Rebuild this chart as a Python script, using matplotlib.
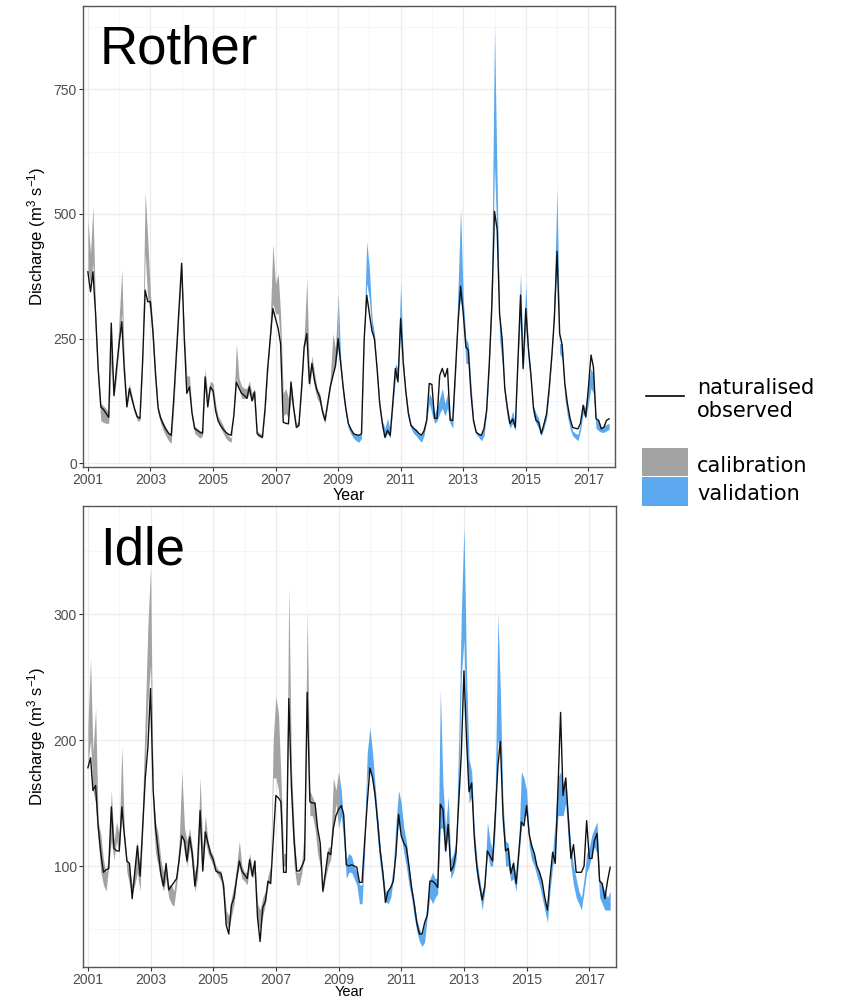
import numpy as np
import pandas as pd
import matplotlib
matplotlib.use("Agg")
import matplotlib.pyplot as plt
import matplotlib.dates as mdates
from matplotlib.lines import Line2D
from matplotlib.patches import Rectangle
from matplotlib.ticker import FixedLocator
from datetime import datetime

plt.rcParams['font.family'] = ['Liberation Sans', 'DejaVu Sans']
plt.rcParams['mathtext.fontset'] = 'custom'
plt.rcParams['mathtext.rm'] = 'Liberation Sans'
plt.rcParams['mathtext.it'] = 'Liberation Sans'

# ---------------- data (monthly, Jan 2001 - Sep 2017) ----------------
start_month = "2001-01-01"
n_months = 201
validation_start = "2009-01-01"
major_years = [2001, 2003, 2005, 2007, 2009, 2011, 2013, 2015, 2017]
minor_years = [2002, 2004, 2006, 2008, 2010, 2012, 2014, 2016]

rother_obs = [
    384, 344, 384, 300, 190, 113, 108, 100, 92, 281, 136, 190,
    240, 284, 190, 113, 150, 128, 108, 93, 90, 200, 347, 324,
    324, 260, 180, 110, 90, 78, 68, 60, 56, 130, 220, 310,
    401, 250, 140, 153, 100, 69, 66, 62, 60, 173, 113, 153,
    145, 105, 85, 75, 68, 62, 58, 56, 95, 163, 150, 140,
    136, 130, 153, 125, 143, 59, 55, 52, 110, 190, 250, 310,
    290, 270, 240, 82, 80, 79, 163, 110, 72, 76, 150, 233,
    260, 160, 200, 165, 145, 133, 105, 86, 120, 153, 175, 195,
    250, 200, 153, 110, 79, 68, 59, 57, 56, 59, 247, 337,
    300, 265, 250, 190, 120, 80, 52, 66, 56, 120, 190, 163,
    290, 200, 146, 100, 76, 70, 66, 60, 56, 65, 86, 160,
    158, 90, 90, 176, 190, 173, 190, 86, 86, 180, 280, 355,
    300, 233, 227, 140, 85, 62, 58, 56, 70, 106, 200, 314,
    505, 469, 300, 247, 150, 110, 79, 89, 72, 200, 337, 190,
    310, 230, 180, 110, 86, 82, 59, 78, 99, 150, 215, 290,
    425, 260, 237, 160, 120, 90, 72, 70, 69, 80, 116, 93,
    150, 217, 193, 89, 86, 69, 72, 86, 89,
]
rother_lo = [
    390, 360, 400, 250, 160, 85, 82, 80, 80, 200, 130, 170,
    240, 300, 180, 110, 140, 120, 100, 85, 85, 190, 420, 330,
    300, 230, 160, 100, 80, 65, 55, 45, 40, 110, 210, 300,
    380, 230, 150, 150, 90, 60, 55, 50, 55, 160, 120, 150,
    140, 105, 85, 70, 60, 50, 45, 42, 100, 170, 150, 130,
    130, 130, 140, 125, 130, 55, 52, 50, 100, 180, 250, 320,
    300, 300, 240, 95, 100, 90, 130, 100, 70, 75, 140, 230,
    250, 150, 190, 150, 130, 120, 95, 80, 115, 150, 180, 200,
    230, 180, 130, 95, 70, 58, 50, 45, 42, 50, 250, 360,
    330, 260, 240, 170, 110, 70, 50, 60, 50, 110, 170, 170,
    270, 190, 130, 90, 70, 60, 55, 48, 42, 55, 85, 120,
    100, 80, 85, 100, 110, 95, 110, 80, 70, 170, 300, 330,
    290, 200, 200, 120, 80, 58, 52, 45, 55, 100, 190, 330,
    600, 440, 250, 200, 130, 90, 70, 80, 65, 200, 300, 180,
    280, 200, 160, 95, 80, 70, 55, 70, 90, 140, 210, 300,
    400, 220, 210, 130, 95, 70, 55, 50, 45, 65, 100, 90,
    120, 150, 140, 70, 65, 62, 62, 65, 68,
]
rother_hi = [
    490, 420, 515, 300, 190, 120, 115, 110, 100, 240, 150, 200,
    290, 390, 210, 125, 160, 135, 112, 95, 95, 230, 545, 450,
    340, 270, 190, 115, 95, 82, 72, 62, 58, 135, 240, 330,
    400, 260, 175, 175, 105, 75, 70, 65, 65, 190, 135, 165,
    160, 118, 95, 85, 75, 62, 55, 50, 120, 240, 170, 155,
    150, 150, 165, 140, 150, 65, 60, 58, 115, 195, 290, 440,
    360, 380, 300, 140, 150, 130, 160, 115, 80, 85, 170, 250,
    370, 175, 215, 180, 150, 140, 110, 92, 130, 170, 260, 230,
    340, 210, 150, 110, 80, 68, 60, 58, 56, 62, 270, 445,
    390, 290, 260, 190, 125, 85, 70, 90, 65, 130, 200, 190,
    360, 210, 150, 105, 80, 72, 66, 58, 55, 68, 100, 140,
    130, 100, 110, 130, 150, 120, 140, 95, 85, 200, 350, 510,
    330, 250, 240, 160, 90, 65, 60, 55, 70, 115, 240, 400,
    875, 560, 300, 240, 150, 110, 85, 105, 80, 240, 380, 220,
    360, 230, 175, 115, 100, 90, 65, 85, 105, 160, 230, 350,
    550, 240, 240, 150, 110, 85, 65, 60, 58, 80, 120, 110,
    160, 190, 175, 90, 85, 72, 75, 78, 80,
]

idle_obs = [
    178, 186, 160, 164, 131, 110, 95, 97, 98, 147, 114, 112,
    112, 147, 125, 104, 102, 74, 95, 116, 92, 130, 170, 194,
    241, 160, 130, 112, 94, 84, 102, 81, 84, 87, 90, 105,
    124, 120, 104, 123, 110, 84, 100, 144, 96, 127, 118, 110,
    105, 96, 95, 94, 85, 53, 46, 69, 75, 90, 104, 96,
    93, 90, 105, 92, 104, 59, 40, 67, 72, 88, 86, 120,
    156, 154, 151, 95, 95, 233, 163, 120, 96, 96, 100, 105,
    238, 151, 150, 150, 130, 118, 80, 95, 111, 109, 130, 140,
    145, 148, 141, 101, 100, 101, 100, 99, 87, 87, 120, 150,
    178, 170, 157, 135, 112, 95, 71, 80, 83, 88, 110, 141,
    124, 118, 115, 100, 83, 70, 55, 46, 46, 55, 61, 88,
    88, 86, 83, 149, 145, 112, 133, 96, 100, 111, 150, 189,
    255, 199, 159, 166, 123, 99, 85, 73, 84, 112, 108, 104,
    140, 180, 199, 140, 112, 114, 94, 102, 86, 110, 135, 132,
    148, 125, 116, 110, 100, 95, 88, 75, 65, 90, 111, 102,
    160, 222, 156, 170, 138, 106, 117, 95, 95, 95, 100, 136,
    106, 106, 120, 126, 88, 86, 74, 88, 99,
]
idle_lo = [
    180, 200, 160, 150, 120, 95, 85, 80, 100, 120, 105, 120,
    110, 140, 120, 95, 85, 78, 85, 95, 80, 125, 180, 230,
    260, 140, 110, 100, 88, 80, 90, 75, 70, 68, 85, 105,
    125, 110, 100, 115, 100, 80, 90, 130, 100, 120, 110, 105,
    100, 95, 92, 88, 75, 55, 50, 60, 70, 90, 100, 90,
    88, 85, 100, 90, 95, 55, 50, 60, 70, 85, 90, 170,
    170, 160, 140, 100, 100, 240, 150, 100, 85, 85, 95, 110,
    230, 140, 140, 130, 110, 100, 78, 90, 100, 105, 130, 150,
    130, 140, 120, 90, 95, 95, 90, 85, 70, 70, 110, 170,
    180, 165, 150, 120, 100, 85, 72, 70, 75, 90, 120, 135,
    125, 110, 100, 85, 75, 60, 48, 40, 36, 40, 60, 75,
    70, 75, 78, 130, 130, 110, 125, 90, 95, 105, 160, 250,
    280, 190, 150, 155, 110, 90, 80, 65, 80, 110, 100, 100,
    130, 200, 190, 130, 100, 100, 88, 90, 80, 105, 130, 140,
    140, 115, 105, 100, 92, 85, 75, 65, 55, 80, 100, 110,
    140, 140, 140, 150, 120, 100, 85, 75, 70, 65, 80, 95,
    100, 110, 115, 110, 75, 70, 65, 65, 65,
]
idle_hi = [
    210, 265, 190, 225, 135, 125, 105, 95, 110, 160, 120, 135,
    125, 195, 130, 105, 100, 85, 100, 120, 92, 150, 220, 290,
    337, 160, 135, 125, 105, 95, 100, 85, 85, 80, 95, 120,
    175, 130, 120, 130, 115, 95, 105, 170, 115, 140, 120, 112,
    108, 100, 97, 96, 85, 65, 60, 75, 85, 100, 120, 100,
    95, 95, 110, 98, 105, 70, 65, 75, 80, 92, 100, 200,
    235, 220, 170, 110, 110, 322, 180, 130, 95, 95, 105, 130,
    300, 160, 155, 150, 125, 110, 85, 100, 115, 115, 170, 160,
    175, 160, 135, 105, 110, 108, 100, 95, 85, 85, 130, 190,
    210, 190, 165, 140, 115, 95, 80, 80, 85, 100, 135, 160,
    150, 130, 120, 100, 85, 72, 58, 50, 45, 55, 70, 90,
    95, 90, 90, 240, 165, 130, 155, 105, 110, 120, 200, 300,
    370, 250, 185, 175, 130, 105, 90, 78, 88, 135, 120, 112,
    160, 300, 240, 150, 120, 118, 98, 105, 90, 115, 175, 170,
    160, 125, 118, 110, 100, 95, 85, 72, 65, 90, 112, 135,
    170, 175, 165, 170, 140, 115, 100, 90, 80, 75, 90, 110,
    115, 125, 130, 135, 90, 85, 80, 75, 80,
]

panel_names = ["Rother", "Idle"]
legend_line_label = "naturalised\nobserved"
legend_patch_labels = ["calibration", "validation"]
calib_color = "#A3A3A3"
valid_color = "#5DA9F0"

# ---------------- figure ----------------
W, H = 841, 999
fig = plt.figure(figsize=(W / 100, H / 100), dpi=100)


def fx(px):
    return px / W


def fy(py):
    return 1 - py / H


dates = pd.date_range(start_month, periods=n_months, freq="MS")
is_cal = dates <= pd.Timestamp(validation_start)
is_val = dates >= pd.Timestamp(validation_start)
major_pos = mdates.date2num([datetime(y, 1, 1) for y in major_years])
minor_pos = mdates.date2num([datetime(y, 1, 1) for y in minor_years])

panels = [
    dict(name=panel_names[0], obs=rother_obs, lo=rother_lo, hi=rother_hi,
         rect=[fx(83), fy(466.7), fx(615) - fx(83), 460.7 / H],
         ylim=(-7, 917), yticks=[0, 250, 500, 750], yminor=[125, 375, 625, 875],
         xl_size=11.5, xl_pad=0.5),
    dict(name=panel_names[1], obs=idle_obs, lo=idle_lo, hi=idle_hi,
         rect=[fx(83), fy(966.7), fx(616) - fx(83), 460.7 / H],
         ylim=(20, 386), yticks=[100, 200, 300], yminor=[50, 150, 250, 350],
         xl_size=10.5, xl_pad=-1.5),
]

for p in panels:
    assert len(p["obs"]) == n_months and len(p["lo"]) == n_months and len(p["hi"]) == n_months
    ax = fig.add_axes(p["rect"])
    obs = np.array(p["obs"], float)
    lo = np.array(p["lo"], float)
    hi = np.array(p["hi"], float)
    lo2 = np.minimum(lo, hi)
    hi2 = np.maximum(lo, hi)

    ax.fill_between(dates[is_cal], lo2[is_cal], hi2[is_cal], color=calib_color,
                    linewidth=0, zorder=2)
    ax.fill_between(dates[is_val], lo2[is_val], hi2[is_val], color=valid_color,
                    linewidth=0, zorder=3)
    ax.plot(dates, obs, color="#111111", linewidth=1.0, zorder=4)

    ax.set_xlim(datetime(2000, 11, 5), datetime(2017, 11, 8))
    ax.set_ylim(*p["ylim"])
    ax.xaxis.set_major_locator(FixedLocator(major_pos))
    ax.xaxis.set_minor_locator(FixedLocator(minor_pos))
    ax.xaxis.set_major_formatter(mdates.DateFormatter("%Y"))
    ax.set_yticks(p["yticks"])
    ax.set_yticks(p["yminor"], minor=True)

    ax.grid(True, which="major", color="#EBEBEB", linewidth=0.9, zorder=0)
    ax.grid(True, which="minor", color="#F4F4F4", linewidth=0.6, zorder=0)
    ax.set_axisbelow(True)

    for s in ax.spines.values():
        s.set_color("#555555")
        s.set_linewidth(1.0)
    ax.tick_params(which="major", length=3, width=0.8, color="#333333",
                   labelsize=10, labelcolor="#4D4D4D", pad=1.5)
    ax.tick_params(which="minor", length=0)

    ax.set_xlabel("Year", fontsize=p["xl_size"], labelpad=p["xl_pad"])
    ax.set_ylabel("Discharge (m$^3$ s$^{-1}$)", fontsize=12, labelpad=4)

    ax.text(0.032, 1 - 58 / 460.7, p["name"], transform=ax.transAxes,
            fontsize=38, ha="left", va="baseline", color="black")

# ---------------- legend ----------------
fig.add_artist(Line2D([fx(646), fx(684)], [fy(396), fy(396)], color="black",
                      linewidth=1.2, transform=fig.transFigure))
for i, ln in enumerate(legend_line_label.split("\n")):
    fig.text(fx(697), fy(394 + 23 * i), ln, fontsize=15, family="DejaVu Sans",
             ha="left", va="baseline")
fig.add_artist(Rectangle((fx(641.7), fy(476)), fx(688.3) - fx(641.7), 27.7 / H,
                         facecolor=calib_color, edgecolor="none", transform=fig.transFigure))
fig.add_artist(Rectangle((fx(641.7), fy(506)), fx(688.3) - fx(641.7), 28.7 / H,
                         facecolor=valid_color, edgecolor="none", transform=fig.transFigure))
fig.text(fx(697), fy(471.5), legend_patch_labels[0], fontsize=15, family="DejaVu Sans",
         ha="left", va="baseline")
fig.text(fx(697), fy(500), legend_patch_labels[1], fontsize=15, family="DejaVu Sans",
         ha="left", va="baseline")

fig.savefig("out.png", dpi=100)
